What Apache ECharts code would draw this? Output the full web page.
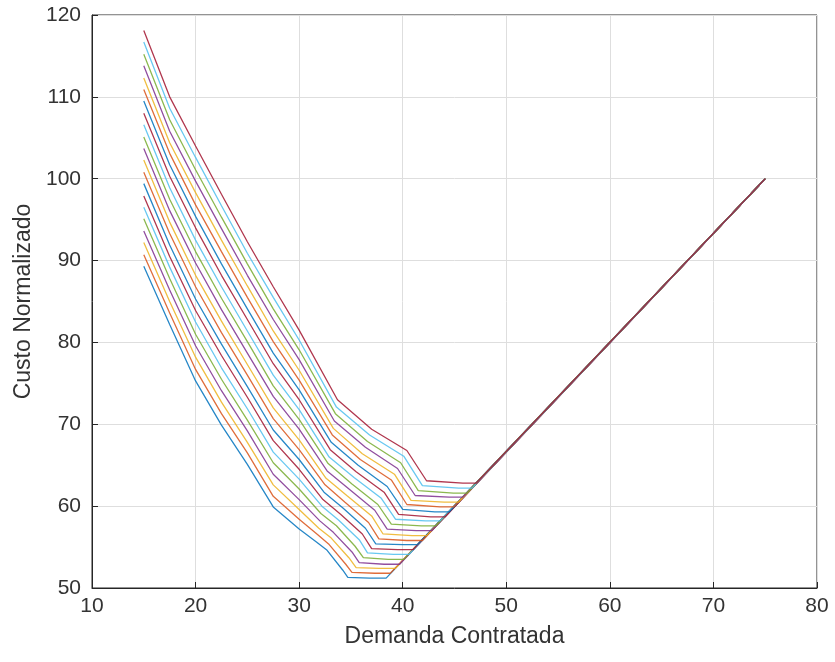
<!DOCTYPE html>
<html>
<head>
<meta charset="utf-8">
<script src="https://cdn.jsdelivr.net/npm/echarts@6/dist/echarts.min.js"></script>
<style>
    html, body { margin: 0; padding: 0; background: #fff; }
    #chart { width: 835px; height: 662px; }
</style>
</head>
<body>
<div id="chart"></div>
<script>
// demanda contratada onde todas as curvas ainda estao descendo
var demanda = [15, 17.5, 20, 22.5, 25, 27.5, 30];

// custo normalizado em cada ponto de demanda, uma linha por curva (de baixo para cima)
var custoCurvas = [
    [89.3, 82.2, 75.3, 69.9, 65.1, 59.9, 57.2],
    [90.7, 83.6, 76.7, 71.3, 66.5, 61.2, 58.4],
    [92.2, 85.0, 78.2, 72.7, 67.8, 62.6, 59.6],
    [93.6, 86.4, 79.6, 74.1, 69.2, 63.9, 60.8],
    [95.1, 87.8, 81.0, 75.5, 70.5, 65.3, 62.1],
    [96.5, 89.2, 82.5, 76.9, 71.9, 66.6, 63.3],
    [97.9, 90.5, 83.9, 78.4, 73.3, 68.0, 64.5],
    [99.4, 91.9, 85.3, 79.8, 74.6, 69.3, 65.7],
    [100.8, 93.3, 86.8, 81.2, 76.0, 70.7, 66.9],
    [102.3, 94.7, 88.2, 82.6, 77.3, 72.0, 68.1],
    [103.7, 96.1, 89.7, 84.0, 78.7, 73.4, 69.4],
    [105.1, 97.5, 91.1, 85.4, 80.1, 74.7, 70.6],
    [106.6, 98.9, 92.5, 86.8, 81.4, 76.0, 71.8],
    [108.0, 100.3, 94.0, 88.2, 82.8, 77.4, 73.0],
    [109.5, 101.7, 95.4, 89.6, 84.1, 78.7, 74.2],
    [110.9, 103.1, 96.8, 91.1, 85.5, 80.1, 75.4],
    [112.3, 104.4, 98.3, 92.5, 86.9, 81.4, 76.6],
    [113.8, 105.8, 99.7, 93.9, 88.2, 82.8, 77.9],
    [115.2, 107.2, 101.1, 95.3, 89.6, 84.1, 79.1],
    [116.7, 108.6, 102.6, 96.7, 90.9, 85.5, 80.3],
    [118.1, 110.0, 104.0, 98.1, 92.3, 86.8, 81.5]
];

// trecho final de cada curva: joelho, degrau, patamar e encontro com a reta comum
var caudaCurvas = [
    [[31.7, 55.6], [32.7, 54.6], [34.2, 52.2], [34.7, 51.3], [36.8, 51.2], [38.4, 51.2]],
    [[31.8, 56.5], [32.9, 55.3], [34.5, 52.9], [35.1, 51.9], [37.3, 51.8], [38.8, 51.8]],
    [[31.9, 57.3], [33.1, 56.1], [34.8, 53.7], [35.5, 52.5], [37.7, 52.4], [39.3, 52.4]],
    [[32.0, 58.2], [33.3, 56.8], [35.1, 54.4], [35.8, 53.1], [38.2, 52.9], [39.7, 52.9]],
    [[32.1, 59.1], [33.6, 57.6], [35.4, 55.1], [36.2, 53.7], [38.6, 53.5], [40.1, 53.5]],
    [[32.2, 60.0], [33.8, 58.3], [35.8, 55.9], [36.6, 54.3], [39.1, 54.1], [40.6, 54.1]],
    [[32.3, 60.8], [34.0, 59.0], [36.1, 56.6], [37.0, 54.8], [39.5, 54.7], [41.0, 54.7]],
    [[32.4, 61.7], [34.2, 59.8], [36.4, 57.3], [37.4, 55.4], [40.0, 55.3], [41.4, 55.3]],
    [[32.5, 62.6], [34.4, 60.5], [36.7, 58.0], [37.7, 56.0], [40.4, 55.8], [41.9, 55.8]],
    [[32.6, 63.4], [34.6, 61.3], [37.0, 58.8], [38.1, 56.6], [40.9, 56.4], [42.3, 56.4]],
    [[32.7, 64.3], [34.9, 62.0], [37.3, 59.5], [38.5, 57.2], [41.3, 57.0], [42.8, 57.0]],
    [[32.8, 65.2], [35.1, 62.7], [37.6, 60.2], [38.9, 57.8], [41.8, 57.6], [43.2, 57.6]],
    [[32.9, 66.0], [35.3, 63.5], [37.9, 61.0], [39.3, 58.4], [42.2, 58.2], [43.6, 58.2]],
    [[33.0, 66.9], [35.5, 64.2], [38.2, 61.7], [39.6, 59.0], [42.7, 58.7], [44.1, 58.7]],
    [[33.1, 67.8], [35.7, 65.0], [38.5, 62.4], [40.0, 59.6], [43.1, 59.3], [44.5, 59.3]],
    [[33.2, 68.7], [35.9, 65.7], [38.9, 63.2], [40.4, 60.2], [43.6, 59.9], [44.9, 59.9]],
    [[33.3, 69.5], [36.1, 66.4], [39.2, 63.9], [40.8, 60.7], [44.0, 60.5], [45.4, 60.5]],
    [[33.4, 70.4], [36.4, 67.2], [39.5, 64.6], [41.2, 61.3], [44.5, 61.1], [45.8, 61.1]],
    [[33.5, 71.3], [36.6, 67.9], [39.8, 65.3], [41.5, 61.9], [44.9, 61.6], [46.2, 61.6]],
    [[33.6, 72.1], [36.8, 68.7], [40.1, 66.1], [41.9, 62.5], [45.4, 62.2], [46.7, 62.2]],
    [[33.7, 73.0], [37.0, 69.4], [40.4, 66.8], [42.3, 63.1], [45.8, 62.8], [47.1, 62.8]]
];

// ponto final da reta comum
var fimReta = [75, 100];

var xTicks = [10, 20, 30, 40, 50, 60, 70, 80];
var yTicks = [50, 60, 70, 80, 90, 100, 110, 120];

// cores padrao do matlab
var cores = ['#0072BD', '#D95319', '#EDB120', '#7E2F8E', '#77AC30', '#4DBEEE', '#A2142F'];

var series = [];
for (let i = 0; i < custoCurvas.length; i++) {
    let pts = [];
    for (let j = 0; j < demanda.length; j++) {
        pts.push([demanda[j], custoCurvas[i][j]]);
    }
    pts = pts.concat(caudaCurvas[i]);
    pts.push(fimReta);
    series.push({
        type: 'line',
        data: pts,
        showSymbol: false,
        lineStyle: { width: 1.3, color: cores[i % cores.length], opacity: 0.85 },
        emphasis: { disabled: true }
    });
}

var fonte = '"Liberation Sans", Arial, sans-serif';

var myChart = echarts.init(document.getElementById('chart'));
var option = {
    animation: false,
    grid: {
        left: 92, right: 18, top: 15, bottom: 74,
        show: true, borderColor: '#262626', borderWidth: 1
    },
    xAxis: {
        type: 'value',
        min: xTicks[0],
        max: xTicks[xTicks.length - 1],
        interval: 10,
        name: 'Demanda Contratada',
        nameLocation: 'middle',
        nameGap: 37,
        nameTextStyle: { fontFamily: fonte, fontSize: 23, color: '#333' },
        axisLine: { show: true, lineStyle: { color: '#262626' } },
        axisTick: { show: true, inside: true, length: 6, lineStyle: { color: '#262626' } },
        axisLabel: { fontFamily: fonte, fontSize: 21, color: '#333', margin: 8 },
        splitLine: { show: true, lineStyle: { color: '#dedede' } }
    },
    yAxis: {
        type: 'value',
        min: yTicks[0],
        max: yTicks[yTicks.length - 1],
        interval: 10,
        name: 'Custo Normalizado',
        nameLocation: 'middle',
        nameGap: 57,
        nameTextStyle: { fontFamily: fonte, fontSize: 23, color: '#333' },
        axisLine: { show: true, lineStyle: { color: '#262626' } },
        axisTick: { show: true, inside: true, length: 6, lineStyle: { color: '#262626' } },
        axisLabel: { fontFamily: fonte, fontSize: 21, color: '#333', margin: 11 },
        splitLine: { show: true, lineStyle: { color: '#dedede' } }
    },
    series: series
};
myChart.setOption(option);
</script>
</body>
</html>
